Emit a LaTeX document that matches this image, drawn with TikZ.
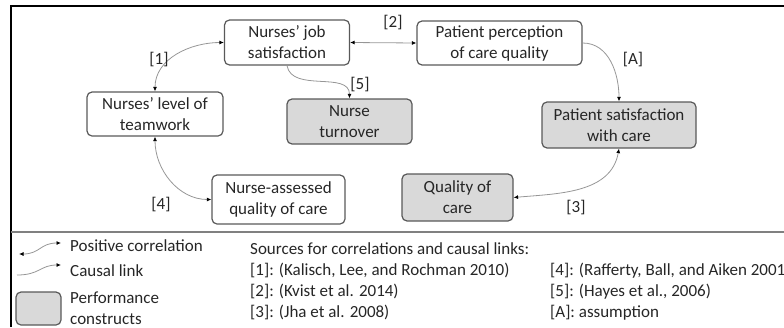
\documentclass[tikz,border=0pt]{standalone}
\usepackage{fontspec}
\setmainfont{Carlito}
\usetikzlibrary{arrows.meta}
\definecolor{boxgray}{RGB}{217,217,217}
\definecolor{edgegray}{RGB}{89,89,89}
\definecolor{linkgray}{RGB}{150,150,150}
\definecolor{txtgray}{RGB}{38,38,38}
\tikzset{
  construct/.style={draw=edgegray, line width=1.2pt, rounded corners=5pt,
    align=center, text=txtgray, inner sep=0pt},
  perf/.style={construct, fill=boxgray},
  corr/.style={draw=linkgray, line width=0.8pt, {Latex[length=4.5pt,width=4pt,color=black]}-{Latex[length=4.5pt,width=4pt,color=black]}},
  causal/.style={draw=linkgray, line width=0.8pt, -{Latex[length=4.5pt,width=4pt,color=black]}},
  src/.style={anchor=base west, text=txtgray, inner sep=0pt},
  ref/.style={text=txtgray, inner sep=0pt}
}
\begin{document}
\begin{tikzpicture}[x=1pt, y=-1pt, font=\fontsize{17}{21}\selectfont]
  \useasboundingbox (0,0) rectangle (784,327);
  % frame and separator
  \draw[line width=2.5pt] (11,327) -- (11,6) -- (784,6);
  \draw[line width=2pt, color=gray] (11,232) -- (784,232);

  % constructs
  \node[construct, minimum width=125pt, minimum height=45pt] (jobsat) at (287,42.5) {Nurses’ job\\satisfaction};
  \node[construct, minimum width=165pt, minimum height=44pt] (percep) at (499.5,43) {Patient perception\\of care quality};
  \node[construct, minimum width=136pt, minimum height=44pt] (team) at (155,114) {Nurses’ level of\\teamwork};
  \node[perf, minimum width=125pt, minimum height=45pt] (turnover) at (349.5,121.5) {Nurse\\turnover};
  \node[perf, minimum width=154pt, minimum height=46pt] (patsat) at (619,125) {Patient satisfaction\\with care};
  \node[construct, minimum width=133pt, minimum height=49pt] (nurseqc) at (278.5,199.5) {Nurse-assessed\\quality of care};
  \node[perf, minimum width=111pt, minimum height=47pt] (qualcare) at (457.5,197.5) {Quality of\\care};

  % links
  \draw[corr] (jobsat.west) to[out=180,in=90] (team.north);
  \draw[corr] (jobsat.east) -- (percep.west);
  \draw[causal] (jobsat.south) to[out=-80,in=90] (turnover.north);
  \draw[causal] (percep.east) to[out=0,in=90] (patsat.north);
  \draw[corr] (qualcare.east) to[out=5,in=-100] (patsat.south);
  \draw[corr] (team.south) to[out=-90,in=180] (nurseqc.west);

  \node[ref] (r1) at (159,60) {[1]};
  \node[ref] (r2) at (393,23) {[2]};
  \node[ref] (r5) at (360,85) {[5]};
  \node[ref] (rA) at (633,60) {[A]};
  \node[ref] (r3) at (576,208) {[3]};
  \node[ref] (r4) at (161,205) {[4]};

  % legend
  \coordinate (ca) at (19,254);
  \coordinate (cb) at (61,243);
  \draw[corr] (ca) .. controls (40,254) and (40,243) .. (cb);
  \coordinate (cc) at (17,275);
  \coordinate (cd) at (61,265);
  \draw[causal] (cc) .. controls (40,275) and (40,265) .. (cd);
  \node[perf, minimum width=45pt, minimum height=33pt] (legbox) at (38.5,308.5) {};
  \node[src] (lcorr) at (70,251) {Positive correlation};
  \node[src] (lcaus) at (70,276) {Causal link};
  \node[src] (lperf) at (70,303) {Performance};
  \node[src] (lperf2) at (70,324) {constructs};

  \node[src] (s0) at (250,254) {Sources for correlations and causal links:};
  \node[src] (s1) at (250,275) {[1]: (Kalisch, Lee, and Rochman 2010)};
  \node[src] (s2) at (250,296) {[2]: (Kvist et al. 2014)};
  \node[src] (s3) at (250,317) {[3]: (Jha et al. 2008)};
  \node[src] (s4) at (550,275) {[4]: (Rafferty, Ball, and Aiken 2001)};
  \node[src] (s5) at (550,296) {[5]: (Hayes et al., 2006)};
  \node[src] (s6) at (550,317) {[A]: assumption};
\end{tikzpicture}
\end{document}
